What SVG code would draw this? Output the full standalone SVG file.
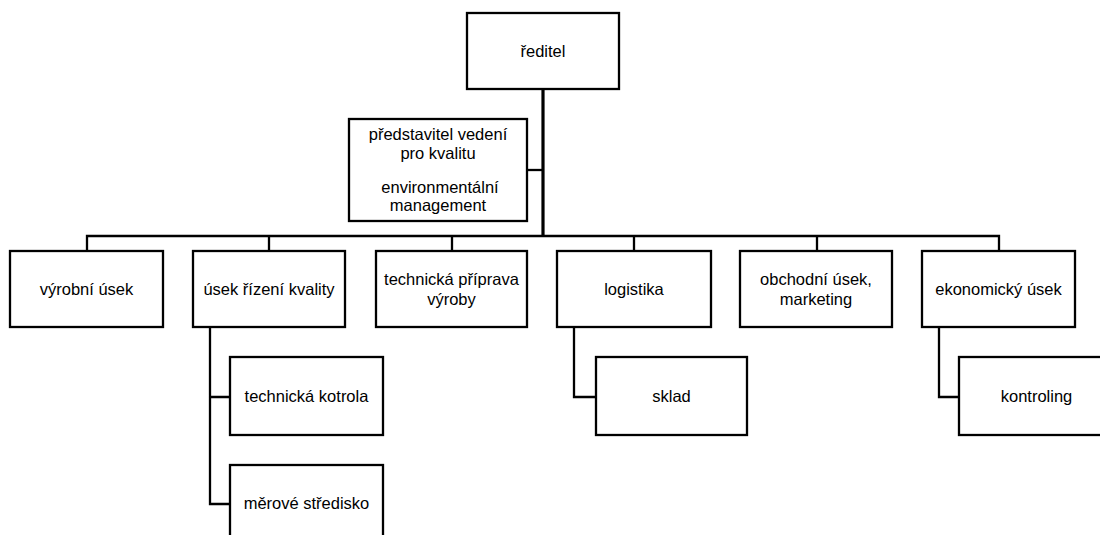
<svg xmlns="http://www.w3.org/2000/svg" width="1100" height="535" viewBox="0 0 1100 535">
<style>
.box{fill:#fff;stroke:#000;stroke-width:2.3}
.ln{fill:none;stroke:#000;stroke-width:2.3}
.trunk{fill:none;stroke:#000;stroke-width:3.2}
text{font-family:"Liberation Sans",Arial,sans-serif;font-size:16.5px;fill:#000;text-anchor:middle}
</style>
<rect width="1100" height="535" fill="#fff"/>
<g id="connectors">
<path class="trunk" d="M543 89V236"/>
<path class="ln" d="M527 170H543"/>
<path class="ln" d="M87 251V236H999V251M269 236V251M452 236V251M634 236V251M817 236V251"/>
<path class="ln" d="M210 327V504H230M210 397H230"/>
<path class="ln" d="M574 327V397H596"/>
<path class="ln" d="M939 327V397H959"/>
</g>
<g id="reditel"><rect class="box" x="467" y="13" width="152" height="76"/><text x="543" y="57">ředitel</text></g>
<g id="predstavitel"><rect class="box" x="349" y="119" width="178" height="102"/>
<text x="438" y="140">představitel vedení</text><text x="438" y="159">pro kvalitu</text>
<text x="440" y="193">environmentální</text><text x="438" y="211">management</text></g>
<g id="vyrobni"><rect class="box" x="10" y="251" width="153" height="76"/><text x="86.5" y="295">výrobní úsek</text></g>
<g id="kvalita"><rect class="box" x="193" y="251" width="152" height="76"/><text x="269" y="295">úsek řízení kvality</text></g>
<g id="tpv"><rect class="box" x="376" y="251" width="151" height="76"/><text x="451.5" y="285">technická příprava</text><text x="451.5" y="305">výroby</text></g>
<g id="logistika"><rect class="box" x="557" y="251" width="154" height="76"/><text x="634" y="295">logistika</text></g>
<g id="obchodni"><rect class="box" x="740" y="251" width="152" height="76"/><text x="816" y="285">obchodní úsek,</text><text x="816" y="305">marketing</text></g>
<g id="ekonomicky"><rect class="box" x="922" y="251" width="153" height="76"/><text x="998.5" y="295">ekonomický úsek</text></g>
<g id="kontrola"><rect class="box" x="230" y="357" width="153" height="78"/><text x="306.5" y="402">technická kotrola</text></g>
<g id="meroveStredisko"><rect class="box" x="230" y="465" width="153" height="78"/><text x="306.5" y="509">měrové středisko</text></g>
<g id="sklad"><rect class="box" x="596" y="357" width="151" height="78"/><text x="671.5" y="402">sklad</text></g>
<g id="kontroling"><rect class="box" x="959" y="357" width="154" height="78"/><text x="1036.5" y="402">kontroling</text></g>
</svg>
